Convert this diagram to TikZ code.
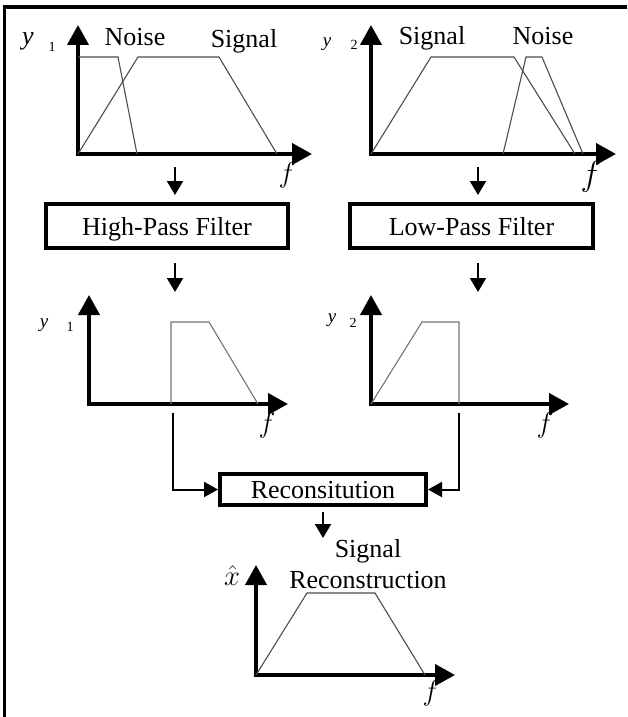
\documentclass[tikz,border=0pt]{standalone}
\usepackage{graphicx}
\usepackage{fontspec}
\setmainfont{Liberation Serif}
\usetikzlibrary{arrows.meta}
\tikzset{
  axis/.style={line width=4pt, line join=miter,
    {Triangle[length=20pt,width=21pt]}-{Triangle[length=20pt,width=21pt]}},
  curve/.style={line width=1.1pt, draw=black!70, line join=miter},
  lightcurve/.style={curve, draw=black!55},
  flow/.style={line width=2pt, -{Triangle[length=14pt,width=16pt]}},
  feed/.style={line width=2pt, -{Triangle[length=14pt,width=15pt]}},
  block/.style={draw, line width=4pt, inner sep=0pt,
    font=\fontsize{26}{30}\selectfont, text height=18pt, text depth=0pt},
  lbl/.style={inner sep=0pt, anchor=base, font=\fontsize{26}{30}\selectfont},
  var/.style={inner sep=0pt, anchor=base, font=\fontsize{26}{30}\selectfont\itshape},
  smallvar/.style={inner sep=0pt, anchor=base, font=\fontsize{19}{22}\selectfont\itshape},
  idx/.style={inner sep=0pt, anchor=base, font=\fontsize{14}{16}\selectfont},
  freq/.style={inner sep=0pt, font=\fontsize{24}{28}\selectfont},
}
% italic frequency symbol, enlarged past the largest math size
\newcommand\freqsym[1]{\scalebox{#1}{$f$}}
\begin{document}
\begin{tikzpicture}[x=1pt,y=-1pt]
\useasboundingbox (0,0) rectangle (627,717);

% frame
\draw[line width=3.5pt] (627,7) -- (4.5,7) -- (4.5,717);

% ---- input spectrum y1 ----
\coordinate (o1) at (78,154);
\draw[axis] (78,25) -- (o1) -- (312,154);
\draw[curve] (78,57) -- (118,57) -- (137,154);
\draw[curve] (o1) -- (138,57) -- (219,57) -- (277,154);
\node[var] (y1a) at (28,45) {y};
\node[idx] (y1i) at (52,52) {1};
\node[lbl] (n1) at (135,46) {Noise};
\node[lbl] (s1) at (244,48) {Signal};
\node[freq] (f1) at (287,175) {\freqsym{1.15}};

% ---- input spectrum y2 ----
\coordinate (o2) at (371,154);
\draw[axis] (371,25) -- (o2) -- (616,154);
\draw[curve] (o2) -- (431,57) -- (514,57) -- (575,154);
\draw[curve] (503,154) -- (526,57) -- (542,57) -- (583,154);
\node[smallvar] (y2a) at (327,47) {y};
\node[idx] (y2i) at (354,50) {2};
\node[lbl] (s2) at (432,45) {Signal};
\node[lbl] (n2) at (543,45) {Noise};
\node[freq] (f2) at (591,177) {\freqsym{1.4}};

% ---- filters ----
\node[block, minimum width=242pt, minimum height=44pt] (hpf) at (167,226) {High-Pass Filter};
\node[block, minimum width=243pt, minimum height=44pt] (lpf) at (471.5,226) {Low-Pass Filter};

\coordinate (a1s) at (175,167); \coordinate (a1e) at (175,195);
\coordinate (a2s) at (478,167); \coordinate (a2e) at (478,195);
\coordinate (a3s) at (175,263); \coordinate (a3e) at (175,292);
\coordinate (a4s) at (478,263); \coordinate (a4e) at (478,292);
\draw[flow] (a1s) -- (a1e);
\draw[flow] (a2s) -- (a2e);
\draw[flow] (a3s) -- (a3e);
\draw[flow] (a4s) -- (a4e);

% ---- filtered spectrum y1 ----
\coordinate (o3) at (89,404);
\draw[axis] (89,295) -- (o3) -- (288,404);
\draw[lightcurve] (171,404) -- (171,322) -- (209,322) -- (258,404);
\node[smallvar] (y3a) at (44,327) {y};
\node[idx] (y3i) at (70,331) {1};
\node[freq] (f3) at (267,425) {\freqsym{1.15}};

% ---- filtered spectrum y2 ----
\coordinate (o4) at (371,404);
\draw[axis] (371,295) -- (o4) -- (569,404);
\draw[lightcurve] (o4) -- (422,322) -- (459,322) -- (459,404);
\node[smallvar] (y4a) at (332,322) {y};
\node[idx] (y4i) at (353,327) {2};
\node[freq] (f4) at (545,425) {\freqsym{1.15}};

% ---- reconstitution ----
\node[block, minimum width=206pt, minimum height=31pt] (rec) at (323,489.5) {Reconsitution};
\coordinate (c1) at (173,413);
\coordinate (c2) at (459,413);
\draw[feed] (c1) |- (rec.west);
\draw[feed] (c2) |- (rec.east);
\coordinate (a5s) at (323,512); \coordinate (a5e) at (323,538);
\draw[flow] (a5s) -- (a5e);
\node[lbl] (sig) at (368,557) {Signal};
\node[lbl] (recon) at (368,588) {Reconstruction};

% ---- reconstructed spectrum ----
\coordinate (o5) at (256,675);
\draw[axis] (256,565) -- (o5) -- (455,675);
\draw[curve] (o5) -- (307,593) -- (375,593) -- (425,675);
\node[freq] (xh) at (232,576) {\scalebox{1.15}{$\hat{x}$}};
\node[freq] (f5) at (431,693) {\freqsym{1.15}};
\end{tikzpicture}
\end{document}
